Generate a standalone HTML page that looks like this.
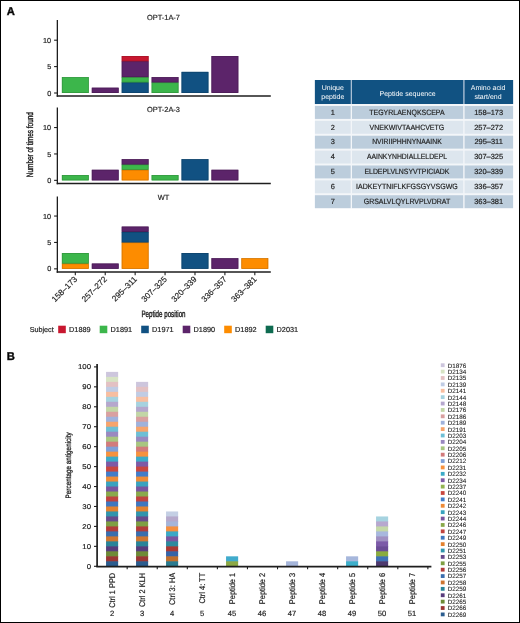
<!DOCTYPE html>
<html><head><meta charset="utf-8"><style>
html,body{margin:0;padding:0;background:#fff;}
body{width:520px;height:623px;overflow:hidden;}
svg{display:block;font-family:"Liberation Sans", sans-serif;will-change:transform;}
text{stroke:#222;stroke-width:0.18px;text-rendering:geometricPrecision;}
text.lg{stroke-width:0.08px;}
text[fill='#fff']{stroke:none;}
</style></head><body>
<svg width="520" height="623" viewBox="0 0 520 623">
<rect x="0" y="0" width="520" height="623" fill="#fff"/>
<text x="163.5" y="20.10" font-size="7.4" text-anchor="middle" fill="#222">OPT-1A-7</text>
<rect x="61.90" y="77.16" width="26.80" height="15.84" fill="#3cb64b"/>
<rect x="62.25" y="77.51" width="26.10" height="15.14" fill="none" stroke="#31953d" stroke-width="0.7"/>
<rect x="91.82" y="87.72" width="26.80" height="5.28" fill="#5c246a"/>
<rect x="92.17" y="88.07" width="26.10" height="4.58" fill="none" stroke="#4b1d56" stroke-width="0.7"/>
<rect x="121.74" y="56.04" width="26.80" height="5.78" fill="#c8172f"/>
<rect x="121.74" y="61.32" width="26.80" height="16.34" fill="#5c246a"/>
<rect x="121.74" y="77.16" width="26.80" height="5.78" fill="#3cb64b"/>
<rect x="121.74" y="82.44" width="26.80" height="10.56" fill="#115182"/>
<rect x="122.09" y="82.79" width="26.10" height="9.86" fill="none" stroke="#0d426a" stroke-width="0.7"/>
<rect x="122.09" y="77.51" width="26.10" height="4.58" fill="none" stroke="#31953d" stroke-width="0.7"/>
<rect x="122.09" y="61.67" width="26.10" height="15.14" fill="none" stroke="#4b1d56" stroke-width="0.7"/>
<rect x="122.09" y="56.39" width="26.10" height="4.58" fill="none" stroke="#a41226" stroke-width="0.7"/>
<rect x="151.66" y="77.16" width="26.80" height="5.78" fill="#5c246a"/>
<rect x="151.66" y="82.44" width="26.80" height="10.56" fill="#3cb64b"/>
<rect x="152.01" y="82.79" width="26.10" height="9.86" fill="none" stroke="#31953d" stroke-width="0.7"/>
<rect x="152.01" y="77.51" width="26.10" height="4.58" fill="none" stroke="#4b1d56" stroke-width="0.7"/>
<rect x="181.58" y="71.88" width="26.80" height="21.12" fill="#115182"/>
<rect x="181.93" y="72.23" width="26.10" height="20.42" fill="none" stroke="#0d426a" stroke-width="0.7"/>
<rect x="211.50" y="56.04" width="26.80" height="36.96" fill="#5c246a"/>
<rect x="211.85" y="56.39" width="26.10" height="36.26" fill="none" stroke="#4b1d56" stroke-width="0.7"/>
<line x1="57.35" y1="20.0" x2="57.35" y2="96.80" stroke="#1e1e1e" stroke-width="1.3"/>
<line x1="56.70" y1="96.10" x2="270.8" y2="96.10" stroke="#1e1e1e" stroke-width="1.5"/>
<line x1="54.1" y1="93.00" x2="57.35" y2="93.00" stroke="#1e1e1e" stroke-width="1.1"/>
<text x="51.2" y="95.60" font-size="7.3" text-anchor="end" fill="#222">0</text>
<line x1="54.1" y1="66.60" x2="57.35" y2="66.60" stroke="#1e1e1e" stroke-width="1.1"/>
<text x="51.2" y="69.20" font-size="7.3" text-anchor="end" fill="#222">5</text>
<line x1="54.1" y1="40.20" x2="57.35" y2="40.20" stroke="#1e1e1e" stroke-width="1.1"/>
<text x="51.2" y="42.80" font-size="7.3" text-anchor="end" fill="#222">10</text>
<text x="163.5" y="112.00" font-size="7.4" text-anchor="middle" fill="#222">OPT-2A-3</text>
<rect x="61.90" y="175.07" width="26.80" height="5.28" fill="#3cb64b"/>
<rect x="62.25" y="175.42" width="26.10" height="4.58" fill="none" stroke="#31953d" stroke-width="0.7"/>
<rect x="91.82" y="169.79" width="26.80" height="10.56" fill="#5c246a"/>
<rect x="92.17" y="170.14" width="26.10" height="9.86" fill="none" stroke="#4b1d56" stroke-width="0.7"/>
<rect x="121.74" y="159.23" width="26.80" height="5.78" fill="#5c246a"/>
<rect x="121.74" y="164.51" width="26.80" height="5.78" fill="#3cb64b"/>
<rect x="121.74" y="169.79" width="26.80" height="10.56" fill="#fd8c00"/>
<rect x="122.09" y="170.14" width="26.10" height="9.86" fill="none" stroke="#cf7200" stroke-width="0.7"/>
<rect x="122.09" y="164.86" width="26.10" height="4.58" fill="none" stroke="#31953d" stroke-width="0.7"/>
<rect x="122.09" y="159.58" width="26.10" height="4.58" fill="none" stroke="#4b1d56" stroke-width="0.7"/>
<rect x="151.66" y="175.07" width="26.80" height="5.28" fill="#3cb64b"/>
<rect x="152.01" y="175.42" width="26.10" height="4.58" fill="none" stroke="#31953d" stroke-width="0.7"/>
<rect x="181.58" y="159.23" width="26.80" height="21.12" fill="#115182"/>
<rect x="181.93" y="159.58" width="26.10" height="20.42" fill="none" stroke="#0d426a" stroke-width="0.7"/>
<rect x="211.50" y="169.79" width="26.80" height="10.56" fill="#5c246a"/>
<rect x="211.85" y="170.14" width="26.10" height="9.86" fill="none" stroke="#4b1d56" stroke-width="0.7"/>
<line x1="57.35" y1="107.6" x2="57.35" y2="184.15" stroke="#1e1e1e" stroke-width="1.3"/>
<line x1="56.70" y1="183.45" x2="270.8" y2="183.45" stroke="#1e1e1e" stroke-width="1.5"/>
<line x1="54.1" y1="180.35" x2="57.35" y2="180.35" stroke="#1e1e1e" stroke-width="1.1"/>
<text x="51.2" y="182.95" font-size="7.3" text-anchor="end" fill="#222">0</text>
<line x1="54.1" y1="153.95" x2="57.35" y2="153.95" stroke="#1e1e1e" stroke-width="1.1"/>
<text x="51.2" y="156.55" font-size="7.3" text-anchor="end" fill="#222">5</text>
<line x1="54.1" y1="127.55" x2="57.35" y2="127.55" stroke="#1e1e1e" stroke-width="1.1"/>
<text x="51.2" y="130.15" font-size="7.3" text-anchor="end" fill="#222">10</text>
<text x="163.5" y="199.50" font-size="7.4" text-anchor="middle" fill="#222">WT</text>
<rect x="61.90" y="253.01" width="26.80" height="11.06" fill="#3cb64b"/>
<rect x="61.90" y="263.57" width="26.80" height="5.28" fill="#fd8c00"/>
<rect x="62.25" y="263.92" width="26.10" height="4.58" fill="none" stroke="#cf7200" stroke-width="0.7"/>
<rect x="62.25" y="253.36" width="26.10" height="9.86" fill="none" stroke="#31953d" stroke-width="0.7"/>
<rect x="91.82" y="263.57" width="26.80" height="5.28" fill="#5c246a"/>
<rect x="92.17" y="263.92" width="26.10" height="4.58" fill="none" stroke="#4b1d56" stroke-width="0.7"/>
<rect x="121.74" y="226.61" width="26.80" height="5.78" fill="#5c246a"/>
<rect x="121.74" y="231.89" width="26.80" height="11.06" fill="#115182"/>
<rect x="121.74" y="242.45" width="26.80" height="26.40" fill="#fd8c00"/>
<rect x="122.09" y="242.80" width="26.10" height="25.70" fill="none" stroke="#cf7200" stroke-width="0.7"/>
<rect x="122.09" y="232.24" width="26.10" height="9.86" fill="none" stroke="#0d426a" stroke-width="0.7"/>
<rect x="122.09" y="226.96" width="26.10" height="4.58" fill="none" stroke="#4b1d56" stroke-width="0.7"/>
<rect x="181.58" y="253.01" width="26.80" height="15.84" fill="#115182"/>
<rect x="181.93" y="253.36" width="26.10" height="15.14" fill="none" stroke="#0d426a" stroke-width="0.7"/>
<rect x="211.50" y="258.29" width="26.80" height="10.56" fill="#5c246a"/>
<rect x="211.85" y="258.64" width="26.10" height="9.86" fill="none" stroke="#4b1d56" stroke-width="0.7"/>
<rect x="241.42" y="258.29" width="26.80" height="10.56" fill="#fd8c00"/>
<rect x="241.77" y="258.64" width="26.10" height="9.86" fill="none" stroke="#cf7200" stroke-width="0.7"/>
<line x1="57.35" y1="196.4" x2="57.35" y2="272.65" stroke="#1e1e1e" stroke-width="1.3"/>
<line x1="56.70" y1="271.95" x2="270.8" y2="271.95" stroke="#1e1e1e" stroke-width="1.5"/>
<line x1="54.1" y1="268.85" x2="57.35" y2="268.85" stroke="#1e1e1e" stroke-width="1.1"/>
<text x="51.2" y="271.45" font-size="7.3" text-anchor="end" fill="#222">0</text>
<line x1="54.1" y1="242.45" x2="57.35" y2="242.45" stroke="#1e1e1e" stroke-width="1.1"/>
<text x="51.2" y="245.05" font-size="7.3" text-anchor="end" fill="#222">5</text>
<line x1="54.1" y1="216.05" x2="57.35" y2="216.05" stroke="#1e1e1e" stroke-width="1.1"/>
<text x="51.2" y="218.65" font-size="7.3" text-anchor="end" fill="#222">10</text>
<line x1="75.30" y1="271.95" x2="75.30" y2="275.15" stroke="#1e1e1e" stroke-width="1.1"/>
<text transform="translate(77.60,279.85) rotate(-45)" font-size="8.2" text-anchor="end" fill="#222">158–173</text>
<line x1="105.22" y1="271.95" x2="105.22" y2="275.15" stroke="#1e1e1e" stroke-width="1.1"/>
<text transform="translate(107.52,279.85) rotate(-45)" font-size="8.2" text-anchor="end" fill="#222">257–272</text>
<line x1="135.14" y1="271.95" x2="135.14" y2="275.15" stroke="#1e1e1e" stroke-width="1.1"/>
<text transform="translate(137.44,279.85) rotate(-45)" font-size="8.2" text-anchor="end" fill="#222">295–311</text>
<line x1="165.06" y1="271.95" x2="165.06" y2="275.15" stroke="#1e1e1e" stroke-width="1.1"/>
<text transform="translate(167.36,279.85) rotate(-45)" font-size="8.2" text-anchor="end" fill="#222">307–325</text>
<line x1="194.98" y1="271.95" x2="194.98" y2="275.15" stroke="#1e1e1e" stroke-width="1.1"/>
<text transform="translate(197.28,279.85) rotate(-45)" font-size="8.2" text-anchor="end" fill="#222">320–339</text>
<line x1="224.90" y1="271.95" x2="224.90" y2="275.15" stroke="#1e1e1e" stroke-width="1.1"/>
<text transform="translate(227.20,279.85) rotate(-45)" font-size="8.2" text-anchor="end" fill="#222">336–357</text>
<line x1="254.82" y1="271.95" x2="254.82" y2="275.15" stroke="#1e1e1e" stroke-width="1.1"/>
<text transform="translate(257.12,279.85) rotate(-45)" font-size="8.2" text-anchor="end" fill="#222">363–381</text>
<text transform="translate(33.2,144.6) rotate(-90) scale(0.7,1)" font-size="9.2" text-anchor="middle" fill="#222" style="stroke-width:0.4px">Number of times found</text>
<text transform="translate(163.5,317.1) scale(0.675,1)" font-size="9.2" text-anchor="middle" fill="#222" style="stroke-width:0.4px">Peptide position</text>
<text x="29.7" y="331.8" font-size="7.2" fill="#222">Subject</text>
<rect x="58.20" y="325.7" width="7.6" height="7.5" fill="#c8172f"/>
<text x="69.10" y="331.8" font-size="7.3" fill="#222">D1889</text>
<rect x="99.70" y="325.7" width="7.6" height="7.5" fill="#3cb64b"/>
<text x="110.60" y="331.8" font-size="7.3" fill="#222">D1891</text>
<rect x="141.20" y="325.7" width="7.6" height="7.5" fill="#115182"/>
<text x="152.10" y="331.8" font-size="7.3" fill="#222">D1971</text>
<rect x="182.70" y="325.7" width="7.6" height="7.5" fill="#5c246a"/>
<text x="193.60" y="331.8" font-size="7.3" fill="#222">D1890</text>
<rect x="224.20" y="325.7" width="7.6" height="7.5" fill="#fd8c00"/>
<text x="235.10" y="331.8" font-size="7.3" fill="#222">D1892</text>
<rect x="265.70" y="325.7" width="7.6" height="7.5" fill="#0e6b50"/>
<text x="276.60" y="331.8" font-size="7.3" fill="#222">D2031</text>
<text x="6.7" y="14.8" font-size="11.2" font-weight="bold" fill="#000" stroke="#000" style="stroke-width:0.45px">A</text>
<text x="6.8" y="360" font-size="11.2" font-weight="bold" fill="#000" stroke="#000" style="stroke-width:0.45px">B</text>
<rect x="314.9" y="80" width="198.20" height="24" fill="#a9bfd4"/>
<rect x="314.9" y="104" width="198.20" height="104.5" fill="#f3f6f9"/>
<rect x="314.9" y="80" width="35.80" height="24" fill="#115282"/>
<rect x="352.00" y="80" width="111.20" height="24" fill="#115282"/>
<rect x="464.60" y="80" width="48.50" height="24" fill="#115282"/>
<text x="332.80" y="90.2" font-size="7" text-anchor="middle" fill="#fff">Unique</text>
<text x="332.80" y="98.6" font-size="7" text-anchor="middle" fill="#fff">peptide</text>
<text x="407.55" y="96.1" font-size="7" text-anchor="middle" fill="#fff">Peptide sequence</text>
<text x="488.10" y="90.1" font-size="7" text-anchor="middle" fill="#fff">Amino acid</text>
<text x="488.05" y="98.5" font-size="7" text-anchor="middle" fill="#fff">start/end</text>
<rect x="314.9" y="106.00" width="35.80" height="12.9" fill="#bccddc"/>
<rect x="352.00" y="106.00" width="111.20" height="12.9" fill="#bccddc"/>
<rect x="464.60" y="106.00" width="48.50" height="12.9" fill="#bccddc"/>
<text x="332.80" y="114.65" font-size="7.4" text-anchor="middle" fill="#222">1</text>
<text x="406.95" y="114.65" font-size="7.7" text-anchor="middle" textLength="75.4" lengthAdjust="spacingAndGlyphs" fill="#222">TEGYRLAENQKSCEPA</text>
<text x="488.65" y="114.65" font-size="7.45" text-anchor="middle" fill="#222">158–173</text>
<rect x="314.9" y="120.87" width="35.80" height="12.9" fill="#dde6ee"/>
<rect x="352.00" y="120.87" width="111.20" height="12.9" fill="#dde6ee"/>
<rect x="464.60" y="120.87" width="48.50" height="12.9" fill="#dde6ee"/>
<text x="332.80" y="129.52" font-size="7.4" text-anchor="middle" fill="#222">2</text>
<text x="406.95" y="129.52" font-size="7.7" text-anchor="middle" textLength="74.7" lengthAdjust="spacingAndGlyphs" fill="#222">VNEKWIVTAAHCVETG</text>
<text x="488.65" y="129.52" font-size="7.45" text-anchor="middle" fill="#222">257–272</text>
<rect x="314.9" y="135.74" width="35.80" height="12.9" fill="#bccddc"/>
<rect x="352.00" y="135.74" width="111.20" height="12.9" fill="#bccddc"/>
<rect x="464.60" y="135.74" width="48.50" height="12.9" fill="#bccddc"/>
<text x="332.80" y="144.39" font-size="7.4" text-anchor="middle" fill="#222">3</text>
<text x="406.95" y="144.39" font-size="7.7" text-anchor="middle" textLength="69.5" lengthAdjust="spacingAndGlyphs" fill="#222">NVIRIIPHHNYNAAINK</text>
<text x="488.65" y="144.39" font-size="7.45" text-anchor="middle" fill="#222">295–311</text>
<rect x="314.9" y="150.61" width="35.80" height="12.9" fill="#dde6ee"/>
<rect x="352.00" y="150.61" width="111.20" height="12.9" fill="#dde6ee"/>
<rect x="464.60" y="150.61" width="48.50" height="12.9" fill="#dde6ee"/>
<text x="332.80" y="159.26" font-size="7.4" text-anchor="middle" fill="#222">4</text>
<text x="406.95" y="159.26" font-size="7.7" text-anchor="middle" textLength="80.1" lengthAdjust="spacingAndGlyphs" fill="#222">AAINKYNHDIALLELDEPL</text>
<text x="488.65" y="159.26" font-size="7.45" text-anchor="middle" fill="#222">307–325</text>
<rect x="314.9" y="165.48" width="35.80" height="12.9" fill="#bccddc"/>
<rect x="352.00" y="165.48" width="111.20" height="12.9" fill="#bccddc"/>
<rect x="464.60" y="165.48" width="48.50" height="12.9" fill="#bccddc"/>
<text x="332.80" y="174.13" font-size="7.4" text-anchor="middle" fill="#222">5</text>
<text x="406.95" y="174.13" font-size="7.7" text-anchor="middle" textLength="85.0" lengthAdjust="spacingAndGlyphs" fill="#222">ELDEPLVLNSYVTPICIADK</text>
<text x="488.65" y="174.13" font-size="7.45" text-anchor="middle" fill="#222">320–339</text>
<rect x="314.9" y="180.35" width="35.80" height="12.9" fill="#dde6ee"/>
<rect x="352.00" y="180.35" width="111.20" height="12.9" fill="#dde6ee"/>
<rect x="464.60" y="180.35" width="48.50" height="12.9" fill="#dde6ee"/>
<text x="332.80" y="189.00" font-size="7.4" text-anchor="middle" fill="#222">6</text>
<text x="406.95" y="189.00" font-size="7.7" text-anchor="middle" textLength="101.7" lengthAdjust="spacingAndGlyphs" fill="#222">IADKEYTNIFLKFGSGYVSGWG</text>
<text x="488.65" y="189.00" font-size="7.45" text-anchor="middle" fill="#222">336–357</text>
<rect x="314.9" y="195.22" width="35.80" height="12.9" fill="#bccddc"/>
<rect x="352.00" y="195.22" width="111.20" height="12.9" fill="#bccddc"/>
<rect x="464.60" y="195.22" width="48.50" height="12.9" fill="#bccddc"/>
<text x="332.80" y="203.87" font-size="7.4" text-anchor="middle" fill="#222">7</text>
<text x="406.95" y="203.87" font-size="7.7" text-anchor="middle" textLength="86.5" lengthAdjust="spacingAndGlyphs" fill="#222">GRSALVLQYLRVPLVDRAT</text>
<text x="488.65" y="203.87" font-size="7.45" text-anchor="middle" fill="#222">363–381</text>
<rect x="106.05" y="371.88" width="12.1" height="5.58" fill="#cdc6dd"/>
<rect x="106.05" y="376.87" width="12.1" height="5.58" fill="#d7e3c4"/>
<rect x="106.05" y="381.85" width="12.1" height="5.58" fill="#e3c1c3"/>
<rect x="106.05" y="386.84" width="12.1" height="5.58" fill="#c0cce4"/>
<rect x="106.05" y="391.82" width="12.1" height="5.58" fill="#f8bea0"/>
<rect x="106.05" y="396.81" width="12.1" height="5.58" fill="#a6d2df"/>
<rect x="106.05" y="401.79" width="12.1" height="5.58" fill="#b5a7cd"/>
<rect x="106.05" y="406.78" width="12.1" height="5.58" fill="#c2d6a6"/>
<rect x="106.05" y="411.76" width="12.1" height="5.58" fill="#d9a0a0"/>
<rect x="106.05" y="416.75" width="12.1" height="5.58" fill="#9fb2dc"/>
<rect x="106.05" y="421.73" width="12.1" height="5.58" fill="#f7a46c"/>
<rect x="106.05" y="426.72" width="12.1" height="5.58" fill="#6ebfd5"/>
<rect x="106.05" y="431.70" width="12.1" height="5.58" fill="#9a89c0"/>
<rect x="106.05" y="436.69" width="12.1" height="5.58" fill="#a8c680"/>
<rect x="106.05" y="441.67" width="12.1" height="5.58" fill="#d27b7b"/>
<rect x="106.05" y="446.66" width="12.1" height="5.58" fill="#7f9fd6"/>
<rect x="106.05" y="451.64" width="12.1" height="5.58" fill="#f7923e"/>
<rect x="106.05" y="456.63" width="12.1" height="5.58" fill="#3cabc8"/>
<rect x="106.05" y="461.61" width="12.1" height="5.58" fill="#7f5aa6"/>
<rect x="106.05" y="466.60" width="12.1" height="5.58" fill="#c9473f"/>
<rect x="106.05" y="471.58" width="12.1" height="5.58" fill="#427dca"/>
<rect x="106.05" y="476.57" width="12.1" height="5.58" fill="#ee8b38"/>
<rect x="106.05" y="481.55" width="12.1" height="5.58" fill="#3aa3bf"/>
<rect x="106.05" y="486.54" width="12.1" height="5.58" fill="#7a559f"/>
<rect x="106.05" y="491.52" width="12.1" height="5.58" fill="#8aa94b"/>
<rect x="106.05" y="496.51" width="12.1" height="5.58" fill="#c0433f"/>
<rect x="106.05" y="501.49" width="12.1" height="5.58" fill="#3f77c0"/>
<rect x="106.05" y="506.48" width="12.1" height="5.58" fill="#e3812f"/>
<rect x="106.05" y="511.46" width="12.1" height="5.58" fill="#3195ad"/>
<rect x="106.05" y="516.45" width="12.1" height="5.58" fill="#684b8c"/>
<rect x="106.05" y="521.43" width="12.1" height="5.58" fill="#7f9f43"/>
<rect x="106.05" y="526.42" width="12.1" height="5.58" fill="#b23c3a"/>
<rect x="106.05" y="531.40" width="12.1" height="5.58" fill="#3a6eae"/>
<rect x="106.05" y="536.39" width="12.1" height="5.58" fill="#cf7530"/>
<rect x="106.05" y="541.38" width="12.1" height="5.58" fill="#2a8499"/>
<rect x="106.05" y="546.36" width="12.1" height="5.58" fill="#583c7c"/>
<rect x="106.05" y="551.34" width="12.1" height="5.58" fill="#6e8a36"/>
<rect x="106.05" y="556.33" width="12.1" height="5.58" fill="#9b3533"/>
<rect x="106.05" y="561.31" width="12.1" height="5.58" fill="#2c5d8f"/>
<rect x="136.05" y="381.85" width="12.1" height="5.58" fill="#cdc6dd"/>
<rect x="136.05" y="386.84" width="12.1" height="5.58" fill="#e3c1c3"/>
<rect x="136.05" y="391.82" width="12.1" height="5.58" fill="#c0cce4"/>
<rect x="136.05" y="396.81" width="12.1" height="5.58" fill="#f8bea0"/>
<rect x="136.05" y="401.79" width="12.1" height="5.58" fill="#a6d2df"/>
<rect x="136.05" y="406.78" width="12.1" height="5.58" fill="#b5a7cd"/>
<rect x="136.05" y="411.76" width="12.1" height="5.58" fill="#c2d6a6"/>
<rect x="136.05" y="416.75" width="12.1" height="5.58" fill="#d9a0a0"/>
<rect x="136.05" y="421.73" width="12.1" height="5.58" fill="#9fb2dc"/>
<rect x="136.05" y="426.72" width="12.1" height="5.58" fill="#f7a46c"/>
<rect x="136.05" y="431.70" width="12.1" height="5.58" fill="#6ebfd5"/>
<rect x="136.05" y="436.69" width="12.1" height="5.58" fill="#9a89c0"/>
<rect x="136.05" y="441.67" width="12.1" height="5.58" fill="#a8c680"/>
<rect x="136.05" y="446.66" width="12.1" height="5.58" fill="#d27b7b"/>
<rect x="136.05" y="451.64" width="12.1" height="5.58" fill="#f7923e"/>
<rect x="136.05" y="456.63" width="12.1" height="5.58" fill="#3cabc8"/>
<rect x="136.05" y="461.61" width="12.1" height="5.58" fill="#7f5aa6"/>
<rect x="136.05" y="466.60" width="12.1" height="5.58" fill="#c9473f"/>
<rect x="136.05" y="471.58" width="12.1" height="5.58" fill="#427dca"/>
<rect x="136.05" y="476.57" width="12.1" height="5.58" fill="#ee8b38"/>
<rect x="136.05" y="481.55" width="12.1" height="5.58" fill="#3aa3bf"/>
<rect x="136.05" y="486.54" width="12.1" height="5.58" fill="#7a559f"/>
<rect x="136.05" y="491.52" width="12.1" height="5.58" fill="#8aa94b"/>
<rect x="136.05" y="496.51" width="12.1" height="5.58" fill="#c0433f"/>
<rect x="136.05" y="501.49" width="12.1" height="5.58" fill="#3f77c0"/>
<rect x="136.05" y="506.48" width="12.1" height="5.58" fill="#e3812f"/>
<rect x="136.05" y="511.46" width="12.1" height="5.58" fill="#3195ad"/>
<rect x="136.05" y="516.45" width="12.1" height="5.58" fill="#684b8c"/>
<rect x="136.05" y="521.43" width="12.1" height="5.58" fill="#7f9f43"/>
<rect x="136.05" y="526.42" width="12.1" height="5.58" fill="#b23c3a"/>
<rect x="136.05" y="531.40" width="12.1" height="5.58" fill="#3a6eae"/>
<rect x="136.05" y="536.39" width="12.1" height="5.58" fill="#cf7530"/>
<rect x="136.05" y="541.38" width="12.1" height="5.58" fill="#2a8499"/>
<rect x="136.05" y="546.36" width="12.1" height="5.58" fill="#583c7c"/>
<rect x="136.05" y="551.34" width="12.1" height="5.58" fill="#6e8a36"/>
<rect x="136.05" y="556.33" width="12.1" height="5.58" fill="#9b3533"/>
<rect x="136.05" y="561.31" width="12.1" height="5.58" fill="#2c5d8f"/>
<rect x="226.05" y="556.33" width="12.1" height="5.58" fill="#40abcc"/>
<rect x="226.05" y="561.31" width="12.1" height="5.58" fill="#8da945"/>
<rect x="286.05" y="561.31" width="12.1" height="5.58" fill="#a5b5da"/>
<rect x="346.05" y="556.33" width="12.1" height="5.58" fill="#a6b7dc"/>
<rect x="346.05" y="561.31" width="12.1" height="5.58" fill="#3dafcb"/>
<rect x="166.05" y="511.46" width="12.1" height="5.58" fill="#c4cfe4"/>
<rect x="166.05" y="516.45" width="12.1" height="5.58" fill="#b6a9cb"/>
<rect x="166.05" y="521.43" width="12.1" height="5.58" fill="#a5b5da"/>
<rect x="166.05" y="526.42" width="12.1" height="5.58" fill="#f58f3f"/>
<rect x="166.05" y="531.40" width="12.1" height="5.58" fill="#3ba9c6"/>
<rect x="166.05" y="536.39" width="12.1" height="5.58" fill="#7a56a0"/>
<rect x="166.05" y="541.38" width="12.1" height="5.58" fill="#2e8a9e"/>
<rect x="166.05" y="546.36" width="12.1" height="5.58" fill="#a93833"/>
<rect x="166.05" y="551.34" width="12.1" height="5.58" fill="#3664a8"/>
<rect x="166.05" y="556.33" width="12.1" height="5.58" fill="#c06e2c"/>
<rect x="166.05" y="561.31" width="12.1" height="5.58" fill="#2a7b90"/>
<rect x="376.05" y="516.45" width="12.1" height="5.58" fill="#a6d3e0"/>
<rect x="376.05" y="521.43" width="12.1" height="5.58" fill="#b7a8cf"/>
<rect x="376.05" y="526.42" width="12.1" height="5.58" fill="#c4d8a8"/>
<rect x="376.05" y="531.40" width="12.1" height="5.58" fill="#a8b8de"/>
<rect x="376.05" y="536.39" width="12.1" height="5.58" fill="#a090c2"/>
<rect x="376.05" y="541.38" width="12.1" height="5.58" fill="#7c5aa8"/>
<rect x="376.05" y="546.36" width="12.1" height="5.58" fill="#6b4c96"/>
<rect x="376.05" y="551.34" width="12.1" height="5.58" fill="#8aac3f"/>
<rect x="376.05" y="556.33" width="12.1" height="5.58" fill="#3e72b6"/>
<rect x="376.05" y="561.31" width="12.1" height="5.58" fill="#4e3a6f"/>
<line x1="97.1" y1="364" x2="97.1" y2="567.10" stroke="#1e1e1e" stroke-width="1.7"/>
<line x1="96.25" y1="566.60" x2="431.4" y2="566.60" stroke="#1e1e1e" stroke-width="1.7"/>
<line x1="94.0" y1="566.30" x2="97.1" y2="566.30" stroke="#1e1e1e" stroke-width="1.1"/>
<text transform="translate(91.1,568.80) scale(1.12,1)" font-size="7" text-anchor="end" fill="#222">0</text>
<line x1="94.0" y1="546.36" x2="97.1" y2="546.36" stroke="#1e1e1e" stroke-width="1.1"/>
<text transform="translate(91.1,548.86) scale(1.12,1)" font-size="7" text-anchor="end" fill="#222">10</text>
<line x1="94.0" y1="526.42" x2="97.1" y2="526.42" stroke="#1e1e1e" stroke-width="1.1"/>
<text transform="translate(91.1,528.92) scale(1.12,1)" font-size="7" text-anchor="end" fill="#222">20</text>
<line x1="94.0" y1="506.48" x2="97.1" y2="506.48" stroke="#1e1e1e" stroke-width="1.1"/>
<text transform="translate(91.1,508.98) scale(1.12,1)" font-size="7" text-anchor="end" fill="#222">30</text>
<line x1="94.0" y1="486.54" x2="97.1" y2="486.54" stroke="#1e1e1e" stroke-width="1.1"/>
<text transform="translate(91.1,489.04) scale(1.12,1)" font-size="7" text-anchor="end" fill="#222">40</text>
<line x1="94.0" y1="466.60" x2="97.1" y2="466.60" stroke="#1e1e1e" stroke-width="1.1"/>
<text transform="translate(91.1,469.10) scale(1.12,1)" font-size="7" text-anchor="end" fill="#222">50</text>
<line x1="94.0" y1="446.66" x2="97.1" y2="446.66" stroke="#1e1e1e" stroke-width="1.1"/>
<text transform="translate(91.1,449.16) scale(1.12,1)" font-size="7" text-anchor="end" fill="#222">60</text>
<line x1="94.0" y1="426.72" x2="97.1" y2="426.72" stroke="#1e1e1e" stroke-width="1.1"/>
<text transform="translate(91.1,429.22) scale(1.12,1)" font-size="7" text-anchor="end" fill="#222">70</text>
<line x1="94.0" y1="406.78" x2="97.1" y2="406.78" stroke="#1e1e1e" stroke-width="1.1"/>
<text transform="translate(91.1,409.28) scale(1.12,1)" font-size="7" text-anchor="end" fill="#222">80</text>
<line x1="94.0" y1="386.84" x2="97.1" y2="386.84" stroke="#1e1e1e" stroke-width="1.1"/>
<text transform="translate(91.1,389.34) scale(1.12,1)" font-size="7" text-anchor="end" fill="#222">90</text>
<line x1="94.0" y1="366.90" x2="97.1" y2="366.90" stroke="#1e1e1e" stroke-width="1.1"/>
<text transform="translate(91.1,369.40) scale(1.12,1)" font-size="7" text-anchor="end" fill="#222">100</text>
<line x1="127.17" y1="566.30" x2="127.17" y2="569.30" stroke="#1e1e1e" stroke-width="1.1"/>
<text transform="translate(115.00,572.8) rotate(-90) scale(0.9,1)" font-size="8.25" text-anchor="end" fill="#222">Ctrl 1 PPD</text>
<text x="112.10" y="616.3" font-size="7.6" text-anchor="middle" fill="#222">2</text>
<line x1="157.24" y1="566.30" x2="157.24" y2="569.30" stroke="#1e1e1e" stroke-width="1.1"/>
<text transform="translate(145.00,572.8) rotate(-90) scale(0.9,1)" font-size="8.25" text-anchor="end" fill="#222">Ctrl 2 KLH</text>
<text x="142.10" y="616.3" font-size="7.6" text-anchor="middle" fill="#222">3</text>
<line x1="187.31" y1="566.30" x2="187.31" y2="569.30" stroke="#1e1e1e" stroke-width="1.1"/>
<text transform="translate(175.00,572.8) rotate(-90) scale(0.9,1)" font-size="8.25" text-anchor="end" fill="#222">Ctrl 3: HA</text>
<text x="172.10" y="616.3" font-size="7.6" text-anchor="middle" fill="#222">4</text>
<line x1="217.38" y1="566.30" x2="217.38" y2="569.30" stroke="#1e1e1e" stroke-width="1.1"/>
<text transform="translate(205.00,572.8) rotate(-90) scale(0.9,1)" font-size="8.25" text-anchor="end" fill="#222">Ctrl 4: TT</text>
<text x="202.10" y="616.3" font-size="7.6" text-anchor="middle" fill="#222">5</text>
<line x1="247.45" y1="566.30" x2="247.45" y2="569.30" stroke="#1e1e1e" stroke-width="1.1"/>
<text transform="translate(235.00,572.8) rotate(-90) scale(0.9,1)" font-size="8.25" text-anchor="end" fill="#222">Peptide 1</text>
<text x="232.10" y="616.3" font-size="7.6" text-anchor="middle" fill="#222">45</text>
<line x1="277.52" y1="566.30" x2="277.52" y2="569.30" stroke="#1e1e1e" stroke-width="1.1"/>
<text transform="translate(265.00,572.8) rotate(-90) scale(0.9,1)" font-size="8.25" text-anchor="end" fill="#222">Peptide 2</text>
<text x="262.10" y="616.3" font-size="7.6" text-anchor="middle" fill="#222">46</text>
<line x1="307.59" y1="566.30" x2="307.59" y2="569.30" stroke="#1e1e1e" stroke-width="1.1"/>
<text transform="translate(295.00,572.8) rotate(-90) scale(0.9,1)" font-size="8.25" text-anchor="end" fill="#222">Peptide 3</text>
<text x="292.10" y="616.3" font-size="7.6" text-anchor="middle" fill="#222">47</text>
<line x1="337.66" y1="566.30" x2="337.66" y2="569.30" stroke="#1e1e1e" stroke-width="1.1"/>
<text transform="translate(325.00,572.8) rotate(-90) scale(0.9,1)" font-size="8.25" text-anchor="end" fill="#222">Peptide 4</text>
<text x="322.10" y="616.3" font-size="7.6" text-anchor="middle" fill="#222">48</text>
<line x1="367.73" y1="566.30" x2="367.73" y2="569.30" stroke="#1e1e1e" stroke-width="1.1"/>
<text transform="translate(355.00,572.8) rotate(-90) scale(0.9,1)" font-size="8.25" text-anchor="end" fill="#222">Peptide 5</text>
<text x="352.10" y="616.3" font-size="7.6" text-anchor="middle" fill="#222">49</text>
<line x1="397.80" y1="566.30" x2="397.80" y2="569.30" stroke="#1e1e1e" stroke-width="1.1"/>
<text transform="translate(385.00,572.8) rotate(-90) scale(0.9,1)" font-size="8.25" text-anchor="end" fill="#222">Peptide 6</text>
<text x="382.10" y="616.3" font-size="7.6" text-anchor="middle" fill="#222">50</text>
<line x1="427.87" y1="566.30" x2="427.87" y2="569.30" stroke="#1e1e1e" stroke-width="1.1"/>
<text transform="translate(415.00,572.8) rotate(-90) scale(0.9,1)" font-size="8.25" text-anchor="end" fill="#222">Peptide 7</text>
<text x="412.10" y="616.3" font-size="7.6" text-anchor="middle" fill="#222">51</text>
<text transform="translate(71.0,465.4) rotate(-90) scale(0.815,1)" font-size="7.8" text-anchor="middle" fill="#222" style="stroke-width:0.3px">Percentage antigenicity</text>
<rect x="440.8" y="363.30" width="3.8" height="3.8" fill="#cdc6dd"/>
<text class="lg" x="447.8" y="367.60" font-size="6.3" fill="#222">D1876</text>
<rect x="440.8" y="369.69" width="3.8" height="3.8" fill="#d7e3c4"/>
<text class="lg" x="447.8" y="373.99" font-size="6.3" fill="#222">D2134</text>
<rect x="440.8" y="376.08" width="3.8" height="3.8" fill="#e3c1c3"/>
<text class="lg" x="447.8" y="380.38" font-size="6.3" fill="#222">D2135</text>
<rect x="440.8" y="382.47" width="3.8" height="3.8" fill="#c0cce4"/>
<text class="lg" x="447.8" y="386.77" font-size="6.3" fill="#222">D2139</text>
<rect x="440.8" y="388.86" width="3.8" height="3.8" fill="#f8bea0"/>
<text class="lg" x="447.8" y="393.16" font-size="6.3" fill="#222">D2141</text>
<rect x="440.8" y="395.25" width="3.8" height="3.8" fill="#a6d2df"/>
<text class="lg" x="447.8" y="399.55" font-size="6.3" fill="#222">D2144</text>
<rect x="440.8" y="401.64" width="3.8" height="3.8" fill="#b5a7cd"/>
<text class="lg" x="447.8" y="405.94" font-size="6.3" fill="#222">D2148</text>
<rect x="440.8" y="408.03" width="3.8" height="3.8" fill="#c2d6a6"/>
<text class="lg" x="447.8" y="412.33" font-size="6.3" fill="#222">D2176</text>
<rect x="440.8" y="414.42" width="3.8" height="3.8" fill="#d9a0a0"/>
<text class="lg" x="447.8" y="418.72" font-size="6.3" fill="#222">D2186</text>
<rect x="440.8" y="420.81" width="3.8" height="3.8" fill="#9fb2dc"/>
<text class="lg" x="447.8" y="425.11" font-size="6.3" fill="#222">D2189</text>
<rect x="440.8" y="427.20" width="3.8" height="3.8" fill="#f7a46c"/>
<text class="lg" x="447.8" y="431.50" font-size="6.3" fill="#222">D2191</text>
<rect x="440.8" y="433.59" width="3.8" height="3.8" fill="#6ebfd5"/>
<text class="lg" x="447.8" y="437.89" font-size="6.3" fill="#222">D2203</text>
<rect x="440.8" y="439.98" width="3.8" height="3.8" fill="#9a89c0"/>
<text class="lg" x="447.8" y="444.28" font-size="6.3" fill="#222">D2204</text>
<rect x="440.8" y="446.37" width="3.8" height="3.8" fill="#a8c680"/>
<text class="lg" x="447.8" y="450.67" font-size="6.3" fill="#222">D2205</text>
<rect x="440.8" y="452.76" width="3.8" height="3.8" fill="#d27b7b"/>
<text class="lg" x="447.8" y="457.06" font-size="6.3" fill="#222">D2206</text>
<rect x="440.8" y="459.15" width="3.8" height="3.8" fill="#7f9fd6"/>
<text class="lg" x="447.8" y="463.45" font-size="6.3" fill="#222">D2212</text>
<rect x="440.8" y="465.54" width="3.8" height="3.8" fill="#f7923e"/>
<text class="lg" x="447.8" y="469.84" font-size="6.3" fill="#222">D2231</text>
<rect x="440.8" y="471.93" width="3.8" height="3.8" fill="#3cabc8"/>
<text class="lg" x="447.8" y="476.23" font-size="6.3" fill="#222">D2232</text>
<rect x="440.8" y="478.32" width="3.8" height="3.8" fill="#7f5aa6"/>
<text class="lg" x="447.8" y="482.62" font-size="6.3" fill="#222">D2234</text>
<rect x="440.8" y="484.71" width="3.8" height="3.8" fill="#93b451"/>
<text class="lg" x="447.8" y="489.01" font-size="6.3" fill="#222">D2237</text>
<rect x="440.8" y="491.10" width="3.8" height="3.8" fill="#c9473f"/>
<text class="lg" x="447.8" y="495.40" font-size="6.3" fill="#222">D2240</text>
<rect x="440.8" y="497.49" width="3.8" height="3.8" fill="#427dca"/>
<text class="lg" x="447.8" y="501.79" font-size="6.3" fill="#222">D2241</text>
<rect x="440.8" y="503.88" width="3.8" height="3.8" fill="#ee8b38"/>
<text class="lg" x="447.8" y="508.18" font-size="6.3" fill="#222">D2242</text>
<rect x="440.8" y="510.27" width="3.8" height="3.8" fill="#3aa3bf"/>
<text class="lg" x="447.8" y="514.57" font-size="6.3" fill="#222">D2243</text>
<rect x="440.8" y="516.66" width="3.8" height="3.8" fill="#7a559f"/>
<text class="lg" x="447.8" y="520.96" font-size="6.3" fill="#222">D2244</text>
<rect x="440.8" y="523.05" width="3.8" height="3.8" fill="#8aa94b"/>
<text class="lg" x="447.8" y="527.35" font-size="6.3" fill="#222">D2246</text>
<rect x="440.8" y="529.44" width="3.8" height="3.8" fill="#c0433f"/>
<text class="lg" x="447.8" y="533.74" font-size="6.3" fill="#222">D2247</text>
<rect x="440.8" y="535.83" width="3.8" height="3.8" fill="#3f77c0"/>
<text class="lg" x="447.8" y="540.13" font-size="6.3" fill="#222">D2249</text>
<rect x="440.8" y="542.22" width="3.8" height="3.8" fill="#e3812f"/>
<text class="lg" x="447.8" y="546.52" font-size="6.3" fill="#222">D2250</text>
<rect x="440.8" y="548.61" width="3.8" height="3.8" fill="#3195ad"/>
<text class="lg" x="447.8" y="552.91" font-size="6.3" fill="#222">D2251</text>
<rect x="440.8" y="555.00" width="3.8" height="3.8" fill="#684b8c"/>
<text class="lg" x="447.8" y="559.30" font-size="6.3" fill="#222">D2253</text>
<rect x="440.8" y="561.39" width="3.8" height="3.8" fill="#7f9f43"/>
<text class="lg" x="447.8" y="565.69" font-size="6.3" fill="#222">D2255</text>
<rect x="440.8" y="567.78" width="3.8" height="3.8" fill="#b23c3a"/>
<text class="lg" x="447.8" y="572.08" font-size="6.3" fill="#222">D2256</text>
<rect x="440.8" y="574.17" width="3.8" height="3.8" fill="#3a6eae"/>
<text class="lg" x="447.8" y="578.47" font-size="6.3" fill="#222">D2257</text>
<rect x="440.8" y="580.56" width="3.8" height="3.8" fill="#cf7530"/>
<text class="lg" x="447.8" y="584.86" font-size="6.3" fill="#222">D2258</text>
<rect x="440.8" y="586.95" width="3.8" height="3.8" fill="#2a8499"/>
<text class="lg" x="447.8" y="591.25" font-size="6.3" fill="#222">D2259</text>
<rect x="440.8" y="593.34" width="3.8" height="3.8" fill="#583c7c"/>
<text class="lg" x="447.8" y="597.64" font-size="6.3" fill="#222">D2261</text>
<rect x="440.8" y="599.73" width="3.8" height="3.8" fill="#6e8a36"/>
<text class="lg" x="447.8" y="604.03" font-size="6.3" fill="#222">D2265</text>
<rect x="440.8" y="606.12" width="3.8" height="3.8" fill="#9b3533"/>
<text class="lg" x="447.8" y="610.42" font-size="6.3" fill="#222">D2266</text>
<rect x="440.8" y="612.51" width="3.8" height="3.8" fill="#2c5d8f"/>
<text class="lg" x="447.8" y="616.81" font-size="6.3" fill="#222">D2269</text>
<rect x="0.5" y="0.5" width="519" height="622" fill="none" stroke="#000" stroke-width="1"/>
</svg>
</body></html>
